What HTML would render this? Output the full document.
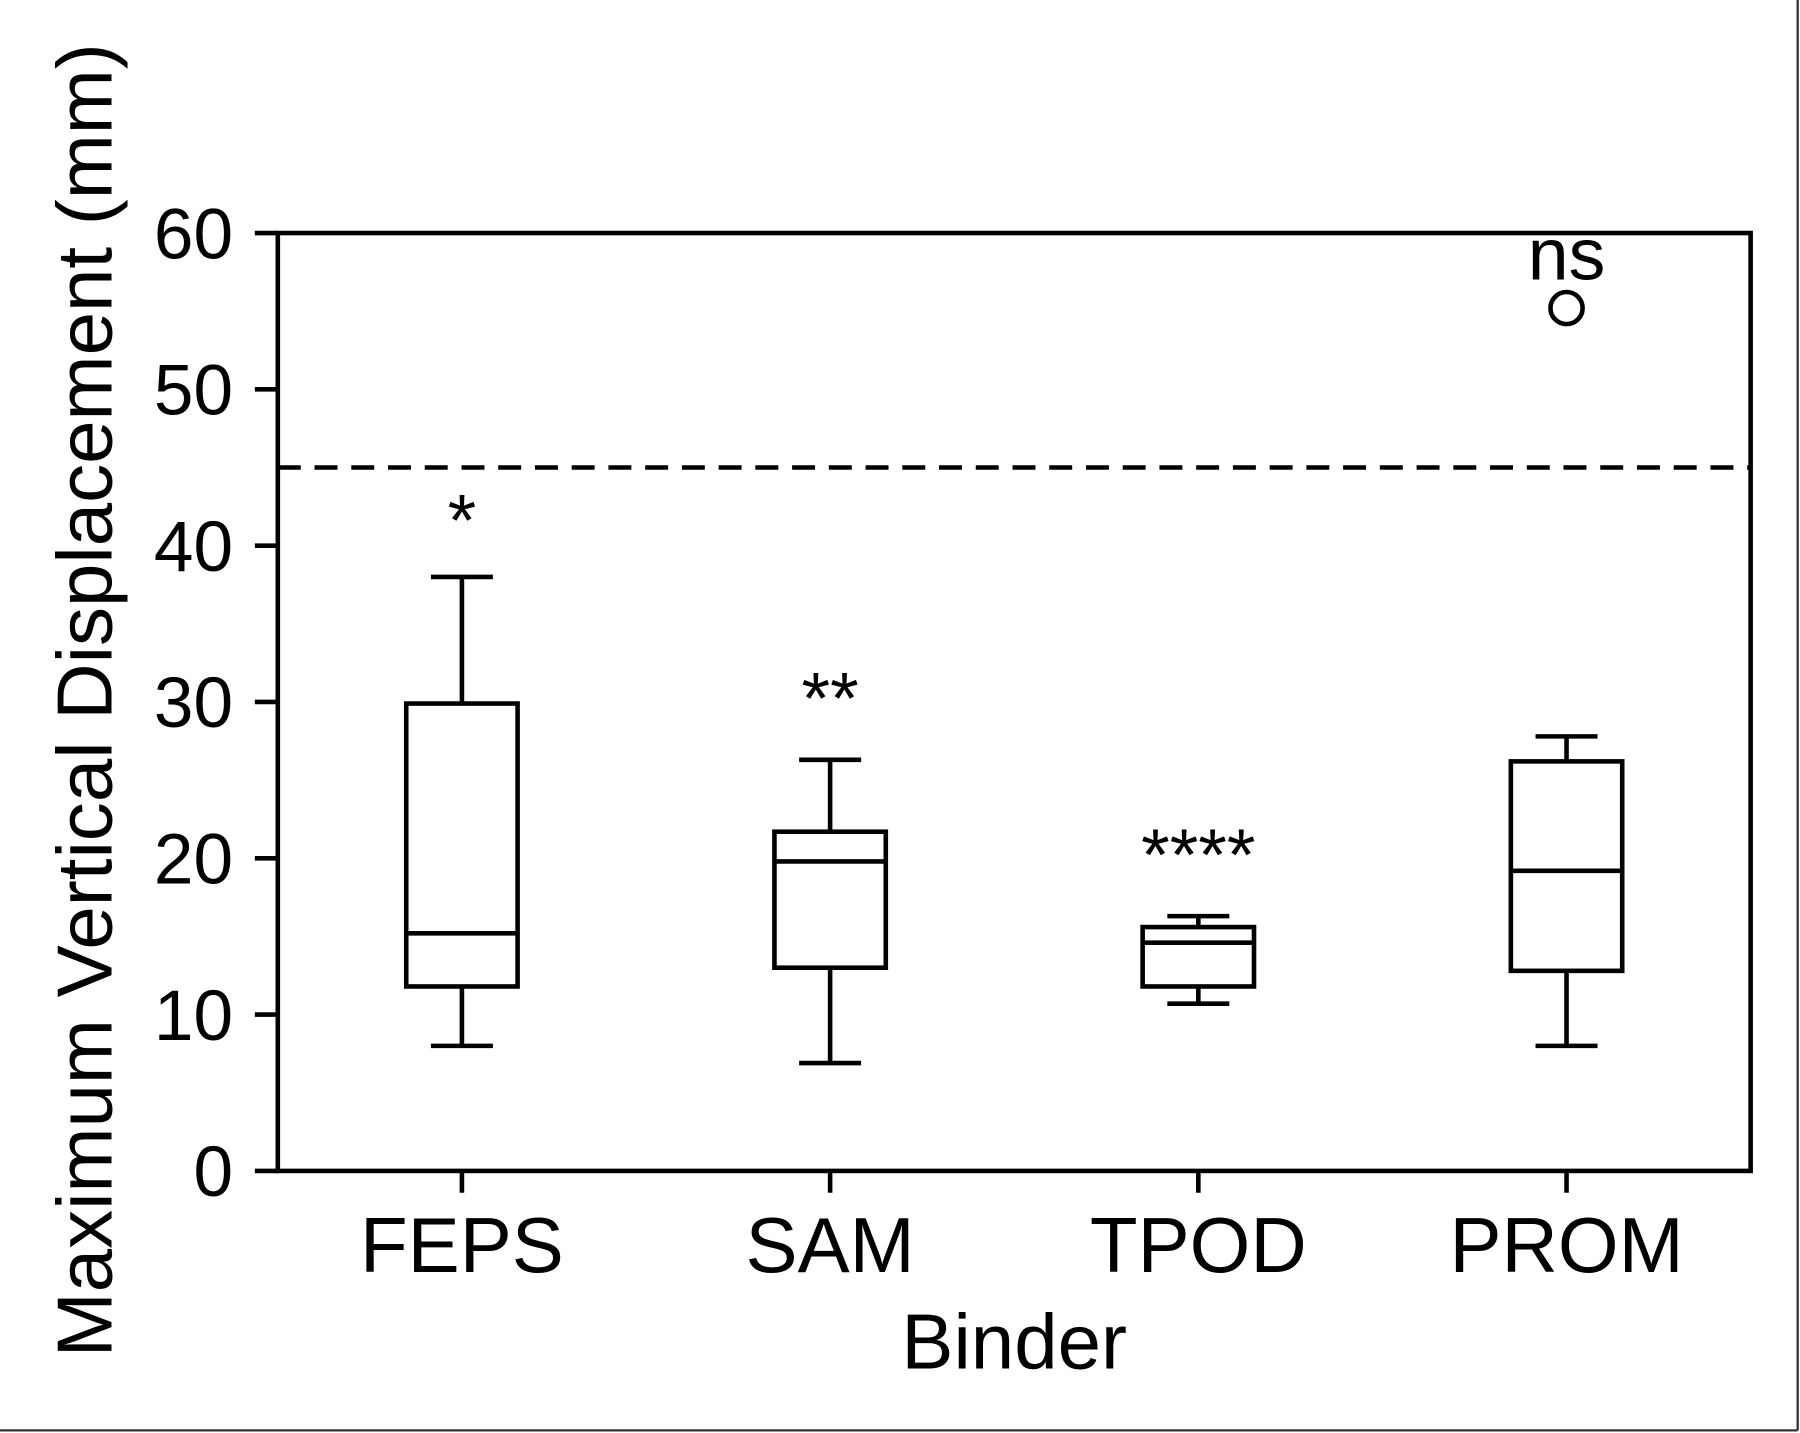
<!DOCTYPE html>
<html><head><meta charset="utf-8"><style>
html,body{margin:0;padding:0;background:#fff;}
svg{display:block;font-family:"Liberation Sans",Arial,sans-serif;}
</style></head><body>
<svg id="chart" width="1800" height="1433" viewBox="0 0 1568 1248.3" preserveAspectRatio="none" xmlns="http://www.w3.org/2000/svg">
<rect x="0" y="0" width="1568" height="1248.3" fill="#fff"/>
<line x1="1566" y1="0" x2="1566" y2="1246" stroke="#333" stroke-width="2"/>
<line x1="0" y1="1246" x2="1566" y2="1246" stroke="#333" stroke-width="2"/>
<g id="plot"></g>
</svg>
<script>
const categories = ["FEPS","SAM","TPOD","PROM"];
const whiskerLow = [8, 6.9, 10.7, 8];
const q1 = [11.8, 13.0, 11.8, 12.8];
const medians = [15.2, 19.8, 14.6, 19.2];
const q3 = [29.9, 21.7, 15.6, 26.2];
const whiskerHigh = [38, 26.3, 16.3, 27.8];
const outliers = [[], [], [], [55.2]];
const annotations = ["*", "**", "****", "ns"];
const annotationValues = [41.2, 29.8, 19.8, 58.2];
const yTicks = [0, 10, 20, 30, 40, 50, 60];
const thresholdValue = 45;

const NS = "http://www.w3.org/2000/svg";
const g = document.getElementById("plot");
const L = 242, R = 1525, T = 203, B = 1020, yMax = 60;
const y = v => B - (v / yMax) * (B - T);
const x = i => L + (R - L) * (i + 0.5) / categories.length;
const boxW = 97, capW = 54, SW = 4;

function mk(tag, attrs) {
  const e = document.createElementNS(NS, tag);
  for (const k in attrs) e.setAttribute(k, attrs[k]);
  g.appendChild(e);
  return e;
}

let e = mk("line", {x1: L, x2: R, y1: y(thresholdValue), y2: y(thresholdValue), stroke: "#000", "stroke-width": SW, "stroke-dasharray": "20 12"});



e = mk("rect", {x: L, y: T, width: R - L, height: B - T, fill: "none", stroke: "#000", "stroke-width": SW});



yTicks.forEach(t => {
  let tk = mk("line", {x1: L - 20, x2: L, y1: y(t), y2: y(t), stroke: "#000", "stroke-width": SW});
  
  
  let lb = mk("text", {x: 203, y: y(t) + 22, "text-anchor": "end", "font-size": 62, fill: "#000"});
  lb.textContent = t;
  
  
});

categories.forEach((c, i) => {
  const cx = x(i);
  let tk = mk("line", {x1: cx, x2: cx, y1: B, y2: B + 19, stroke: "#000", "stroke-width": SW});
  
  
  let lb = mk("text", {x: cx, y: 1108, "text-anchor": "middle", "font-size": 68, fill: "#000"});
  lb.textContent = c;
  
  

  let w1 = mk("line", {x1: cx, x2: cx, y1: y(whiskerLow[i]), y2: y(q1[i]), stroke: "#000", "stroke-width": SW});
  
  
  let w2 = mk("line", {x1: cx, x2: cx, y1: y(q3[i]), y2: y(whiskerHigh[i]), stroke: "#000", "stroke-width": SW});
  
  
  let c1 = mk("line", {x1: cx - capW / 2, x2: cx + capW / 2, y1: y(whiskerLow[i]), y2: y(whiskerLow[i]), stroke: "#000", "stroke-width": SW});
  
  
  let c2 = mk("line", {x1: cx - capW / 2, x2: cx + capW / 2, y1: y(whiskerHigh[i]), y2: y(whiskerHigh[i]), stroke: "#000", "stroke-width": SW});
  
  
  let bx = mk("rect", {x: cx - boxW / 2, y: y(q3[i]), width: boxW, height: y(q1[i]) - y(q3[i]), fill: "#fff", stroke: "#000", "stroke-width": SW});
  
  
  let md = mk("line", {x1: cx - boxW / 2, x2: cx + boxW / 2, y1: y(medians[i]), y2: y(medians[i]), stroke: "#000", "stroke-width": SW});
  
  
  outliers[i].forEach(v => {
    let o = mk("circle", {cx: cx, cy: y(v), r: 14, fill: "none", stroke: "#000", "stroke-width": SW});
    
    
  });
  let an = mk("text", {x: cx, y: y(annotationValues[i]) + 16, "text-anchor": "middle", "font-size": 64, fill: "#000"});
  an.textContent = annotations[i];
  
  
});

e = mk("text", {x: (L + R) / 2, y: 1192, "text-anchor": "middle", "font-size": 68, fill: "#000"});
e.textContent = "Binder";



e = mk("text", {x: 0, y: 0, "text-anchor": "middle", "font-size": 68, fill: "#000", transform: "translate(97,610) rotate(-90)"});
e.textContent = "Maximum Vertical Displacement (mm)";


</script>
</body></html>
